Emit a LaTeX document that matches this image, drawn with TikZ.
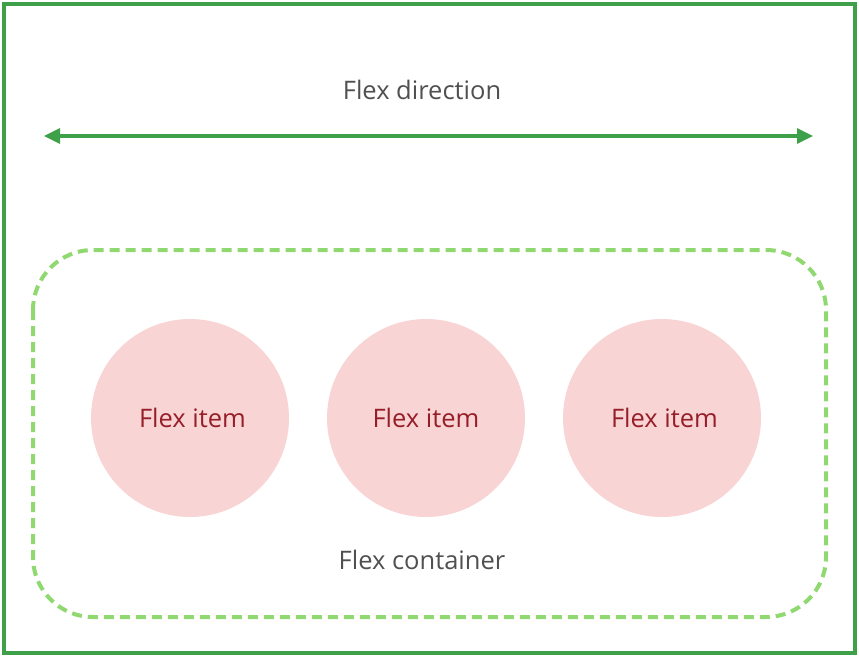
\documentclass[tikz,border=0pt]{standalone}
\usepackage{fontspec}
\setmainfont{Open Sans}
\usetikzlibrary{arrows.meta}
\definecolor{framegreen}{RGB}{62,160,72}
\definecolor{dashgreen}{RGB}{144,216,112}
\definecolor{itempink}{RGB}{248,212,212}
\definecolor{itemred}{RGB}{150,30,40}
\definecolor{labelgray}{RGB}{80,80,80}
\tikzset{
  frame/.style={draw=framegreen, line width=4pt},
  dirarrow/.style={draw=framegreen, line width=3.2pt, {Triangle[length=16pt,width=15pt]}-{Triangle[length=16pt,width=15pt]}},
  container/.style={draw=dashgreen, line width=4pt, dash pattern=on 10pt off 6pt, rounded corners=60pt},
  item/.style={circle, fill=itempink, minimum size=198pt, inner sep=0pt, text=itemred, font=\fontsize{25.5pt}{28pt}\selectfont},
  caption/.style={text=labelgray, font=\fontsize{25.5pt}{28pt}\selectfont, inner sep=0pt}
}
\begin{document}
\begin{tikzpicture}[x=1pt,y=-1pt]
\useasboundingbox (0,0) rectangle (859,656);
\draw[frame] (3.5,3.5) rectangle (855,652.5);
\node[caption] (dirlabel) at (422,90) {Flex direction};
\coordinate (aL) at (44,136);
\coordinate (aR) at (813,136);
\draw[dirarrow] (aL) -- (aR);
\draw[container] (33,250) rectangle (826,617);
\node[item] (i1) at (190,418) {\hspace*{5pt}Flex item};
\node[item] (i2) at (426,418) {Flex item};
\node[item] (i3) at (662,418) {\hspace*{5pt}Flex item};
\node[caption] (contlabel) at (422,560) {Flex container};
\end{tikzpicture}
\end{document}
